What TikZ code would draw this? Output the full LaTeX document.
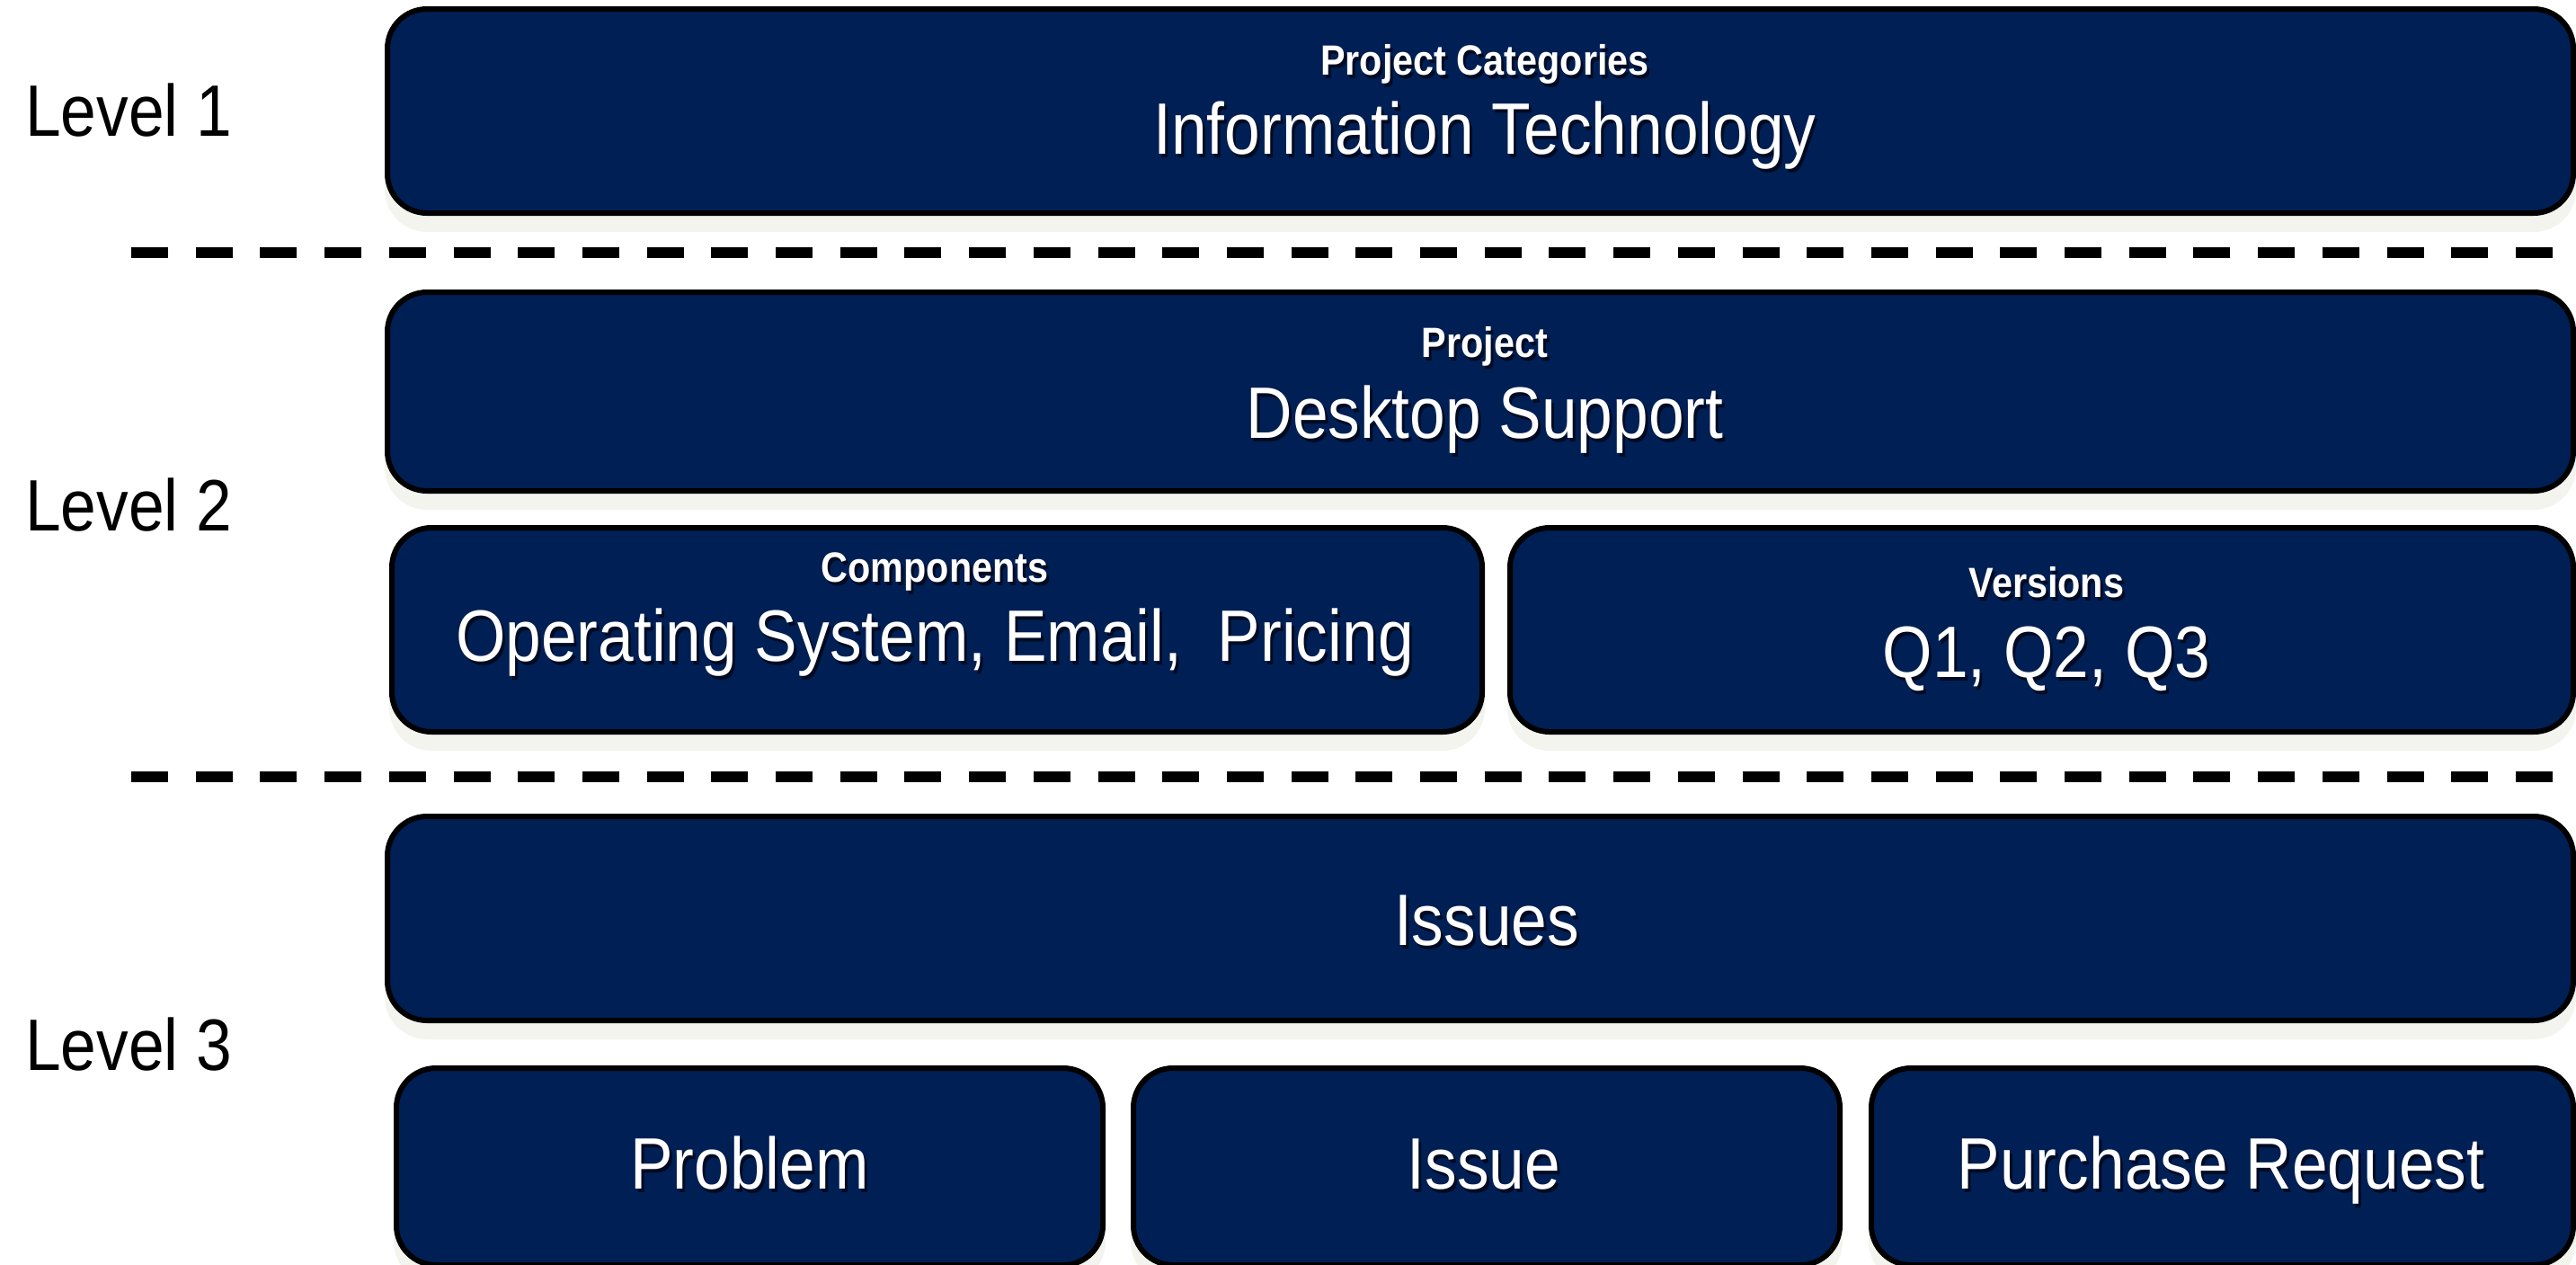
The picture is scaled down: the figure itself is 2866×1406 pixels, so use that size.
\documentclass[tikz,border=0pt]{standalone}
\usepackage{fontspec}
\newfontfamily\labfont[FakeStretch=0.88]{Liberation Sans}
\definecolor{navy}{HTML}{001F54}
\definecolor{boxshadow}{HTML}{F4F4EF}
\definecolor{txtshadow}{HTML}{000B22}
\newcommand\bigtxt{\labfont\fontsize{81pt}{90pt}\selectfont}
\newcommand\smalltxt{\labfont\bfseries\fontsize{47pt}{52pt}\selectfont}
\newcommand\shtext[1]{\makebox[0pt][l]{\kern3pt\raisebox{-4pt}{\textcolor{txtshadow}{#1}}}#1}
\begin{document}
\begin{tikzpicture}[x=1pt,y=-1pt,
  tier/.style={draw=black, line width=6pt, fill=navy, rounded corners=44pt, inner sep=0pt,
    preaction={draw=boxshadow, fill=boxshadow, transform canvas={yshift=-18pt}}},
  bigl/.style={text=white, font=\bigtxt, inner sep=0pt, anchor=base},
  smalll/.style={text=white, font=\smalltxt, inner sep=0pt, anchor=base},
  levell/.style={text=black, font=\bigtxt, inner sep=0pt, anchor=base west},
  divider/.style={draw=black, line width=12pt, dash pattern=on 41pt off 30.7pt}]
\useasboundingbox (0,0) rectangle (2866,1406);
\clip (0,0) rectangle (2866,1406);

% boxes
\node[tier, minimum width=2432pt, minimum height=227pt] (b1) at (1647,123.5) {};
\node[tier, minimum width=2432pt, minimum height=221pt] (b2) at (1647,435.5) {};
\node[tier, minimum width=1213pt, minimum height=227pt] (b3) at (1042.5,700.5) {};
\node[tier, minimum width=1183pt, minimum height=227pt] (b4) at (2271.5,700.5) {};
\node[tier, minimum width=2432pt, minimum height=227pt] (b5) at (1647,1021.5) {};
\node[tier, minimum width=786pt, minimum height=219pt] (b6) at (834,1297.5) {};
\node[tier, minimum width=786pt, minimum height=219pt] (b7) at (1654,1297.5) {};
\node[tier, minimum width=781pt, minimum height=219pt] (b8) at (2472.5,1297.5) {};

% box texts
\node[smalll] (t1s) at (1652,83) {\shtext{Project Categories}};
\node[bigl] (t1) at (1652,171) {\shtext{Information Technology}};
\node[smalll] (t2s) at (1652,397) {\shtext{Project}};
\node[bigl] (t2) at (1652,487) {\shtext{Desktop Support}};
\node[smalll] (t3s) at (1040,647) {\shtext{Components}};
\node[bigl] (t3) at (1040,735) {\shtext{Operating System, Email,~ Pricing}};
\node[smalll] (t4s) at (2277,664) {\shtext{Versions}};
\node[bigl] (t4) at (2277,753) {\shtext{Q1, Q2, Q3}};
\node[bigl] (t5) at (1654,1051) {\shtext{Issues}};
\node[bigl] (t6) at (834,1322) {\shtext{Problem}};
\node[bigl] (t7) at (1651,1322) {\shtext{Issue}};
\node[bigl] (t8) at (2471,1322) {\shtext{Purchase Request}};

% level labels
\node[levell] (l1) at (28,151) {Level 1};
\node[levell] (l2) at (28,590) {Level 2};
\node[levell] (l3) at (28,1190) {Level 3};

% dividers
\coordinate (d1a) at (146,281);
\coordinate (d1b) at (2842,281);
\coordinate (d2a) at (146,864);
\coordinate (d2b) at (2842,864);
\draw[divider] (d1a) -- (d1b);
\draw[divider] (d2a) -- (d2b);
\end{tikzpicture}
\end{document}
